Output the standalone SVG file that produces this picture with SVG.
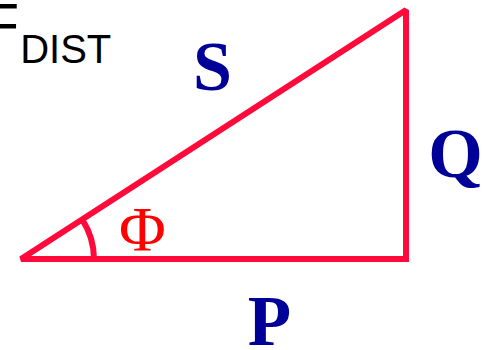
<svg xmlns="http://www.w3.org/2000/svg" width="483" height="350" viewBox="0 0 483 350">
<style>
.edge{fill:none;stroke:#ff0a3a;stroke-width:6;stroke-linejoin:miter;stroke-miterlimit:2;stroke-linecap:butt}
.lbl{font-family:"Liberation Serif","Times New Roman",serif;font-weight:bold;fill:#000099;text-anchor:middle}
.sans{font-family:"Liberation Sans",Arial,sans-serif;fill:#000000}
</style>
<rect width="483" height="350" fill="#ffffff"/>
<g id="title">
<text class="sans" x="-17.5" y="45.3" font-size="60">F</text>
<text class="sans" x="20.2" y="63.3" font-size="40">DIST</text>
</g>
<g id="connectors">
<polygon class="edge" points="21,259 406,259 406,10"/>
<path class="edge" d="M94,259 A73,73 0 0 0 82.4,219.8" stroke-width="7"/>
</g>
<g id="S"><text class="lbl" x="212.5" y="90" font-size="70">S</text></g>
<g id="Q"><text class="lbl" x="455.5" y="177" font-size="70">Q</text></g>
<g id="P"><text class="lbl" x="269.5" y="345" font-size="71">P</text></g>
<g id="phi"><text x="142.5" y="251" font-size="64" font-family="Liberation Serif,'Times New Roman',serif" fill="#ff0000" text-anchor="middle">Φ</text></g>
</svg>
